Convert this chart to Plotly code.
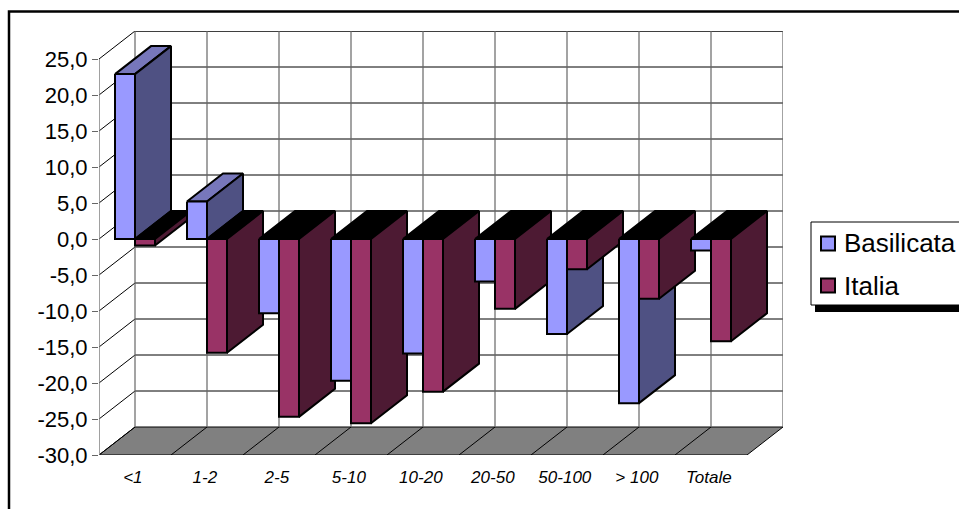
import plotly.graph_objects as go

categories = ["<1", "1-2", "2-5", "5-10", "10-20", "20-50", "50-100", "> 100", "Totale"]
basilicata = [22.9, 5.2, -10.3, -19.7, -15.9, -5.9, -13.2, -22.8, -1.6]
italia = [-0.9, -15.8, -24.7, -25.6, -21.2, -9.7, -4.2, -8.3, -14.2]
y_ticks = [-30, -25, -20, -15, -10, -5, 0, 5, 10, 15, 20, 25]
series_names = ["Basilicata", "Italia"]
series_colors = ["#9999FF", "#993366"]

W, H = 959, 509
L, R, T, B = 99, 783, 31, 455
DX = 0.5
DY = 28 / 7.2
GAP = 16 / 72
BW = 20 / 72
YMIN, YMAX = y_ticks[0], y_ticks[-1]
FONT = "Liberation Sans, Arial, sans-serif"
pw, ph = R - L, B - T


def px(x):
    return (x - L) / pw


def py(y):
    return (B - y) / ph


fig = go.Figure()


def line(xs, ys, color, width):
    fig.add_trace(go.Scatter(x=xs, y=ys, mode="lines", line=dict(color=color, width=width),
                             hoverinfo="skip", showlegend=False, cliponaxis=False))


def poly(xs, ys, fill, width=2.0, stroke="#000000"):
    fig.add_trace(go.Scatter(x=xs + xs[:1], y=ys + ys[:1], mode="lines", fill="toself", fillcolor=fill,
                             line=dict(color=stroke, width=width), hoverinfo="skip",
                             showlegend=False, cliponaxis=False))


n = len(categories)
# floor
poly([0, n, n + DX, DX], [YMIN, YMIN, YMIN + DY, YMIN + DY], "#808080", 1.0)
fx, fy = [], []
for i in range(1, n):
    fx += [i, i + DX, None]
    fy += [YMIN, YMIN + DY, None]
line(fx, fy, "#000000", 1)

# back wall and left wall grid
gx, gy = [], []
for v in y_ticks[1:] + [YMAX]:
    gx += [DX, n + DX, None]
    gy += [v + DY, v + DY, None]
for v in y_ticks:
    gx += [0, DX, None]
    gy += [v, v + DY, None]
line(gx, gy, "#000000", 1)
vx, vy = [], []
for i in range(n + 1):
    vx += [i + DX, i + DX, None]
    vy += [YMIN + DY, YMAX + DY, None]
line(vx, vy, "#666666", 1.2)
line([0, 0], [YMIN, YMAX], "#808080", 1.5)


def bar(i, offset, v, front, side, top):
    x0 = i + GAP + offset * BW
    x1 = x0 + BW
    hi = max(v, 0)
    lo = min(v, 0)
    poly([x0, x0 + DX, x1 + DX, x1], [hi, hi + DY, hi + DY, hi], top if v > 0 else "#000000")
    poly([x1, x1 + DX, x1 + DX, x1], [hi, hi + DY, lo + DY, lo], side)
    poly([x0, x1, x1, x0], [hi, hi, lo, lo], front)


for i in range(n):
    bar(i, 0, basilicata[i], series_colors[0], "#4F5183", "#7777BB")
    bar(i, 1, italia[i], series_colors[1], "#4D1A33", "#7A2952")

shapes = [
    dict(type="rect", xref="paper", yref="paper", x0=px(9), x1=px(1000), y0=py(560), y1=py(11.5),
         line=dict(color="#000000", width=2.5), layer="below"),
    dict(type="rect", xref="paper", yref="paper", x0=px(815), x1=px(1000), y0=py(312), y1=py(305),
         line=dict(width=0), fillcolor="#000000", layer="above"),
    dict(type="rect", xref="paper", yref="paper", x0=px(811), x1=px(1000), y0=py(305), y1=py(222),
         line=dict(color="#000000", width=1), fillcolor="#FFFFFF", layer="above"),
]
annotations = []
for k, (name, color) in enumerate(zip(series_names, series_colors)):
    cy = 243.5 + 42 * k
    shapes.append(dict(type="rect", xref="paper", yref="paper", x0=px(821), x1=px(835), y0=py(cy + 7), y1=py(cy - 7),
                       line=dict(color="#000000", width=2), fillcolor=color, layer="above"))
    annotations.append(dict(xref="paper", yref="paper", x=px(842), y=py(cy), xanchor="left", yanchor="middle",
                            text=name, showarrow=False, font=dict(family=FONT, size=26, color="#000000")))

fig.update_layout(
    width=W, height=H, autosize=False,
    margin=dict(l=L, r=W - R, t=T, b=H - B, autoexpand=False),
    paper_bgcolor="#FFFFFF", plot_bgcolor="#FFFFFF",
    font=dict(family=FONT, color="#000000"),
    showlegend=False,
    xaxis=dict(range=[0, n + DX], tickmode="array", tickvals=[i + 0.47 for i in range(n)], ticktext=categories,
               showgrid=False, zeroline=False, showline=False, ticks="outside", ticklen=7, tickcolor="rgba(0,0,0,0)",
               tickfont=dict(family=FONT, size=17, style="italic", color="#000000")),
    yaxis=dict(range=[YMIN, YMAX + DY], tickmode="array", tickvals=y_ticks,
               ticktext=[f"{v:.1f}".replace(".", ",") for v in y_ticks],
               showgrid=False, zeroline=False, showline=False, ticks="outside", ticklen=6, tickcolor="#666666",
               tickwidth=1.2, tickfont=dict(family=FONT, size=22, color="#000000")),
    shapes=shapes,
    annotations=annotations,
)

fig.write_html("out.html", config=dict(displayModeBar=False),
               post_script="document.body.style.margin='0';document.body.style.overflow='hidden';")
